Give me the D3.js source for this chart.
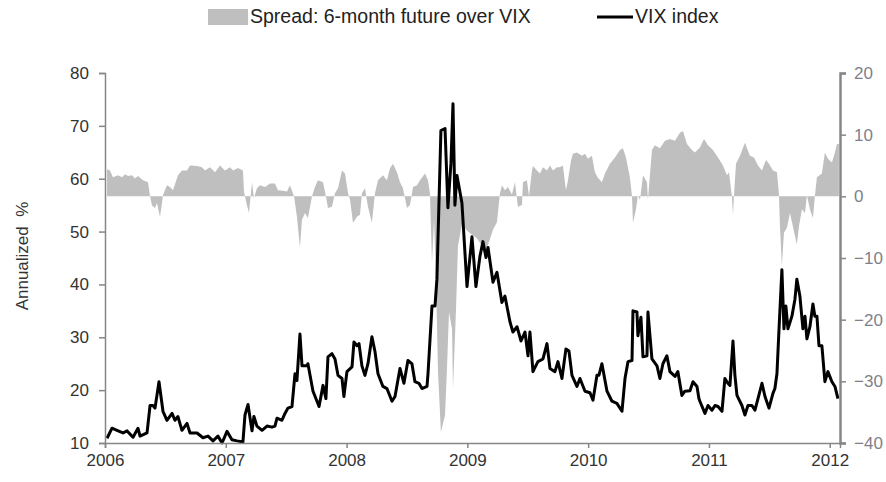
<!DOCTYPE html>
<html>
<head>
<meta charset="utf-8">
<script src="https://cdn.jsdelivr.net/npm/d3@7"></script>
<style>
  body { margin: 0; background: #fff; }
  text { font-family: "Liberation Sans", Arial, sans-serif; }
</style>
</head>
<body>
<div id="chart"></div>
<script>
// time given as decimal year, values in annualized %
const vixSeries = [
  [2006.017, 10.9], [2006.058, 12.8], [2006.099, 12.4], [2006.149, 11.9], [2006.182, 12.3],
  [2006.232, 11.1], [2006.273, 12.8], [2006.290, 11.3], [2006.348, 11.9], [2006.373, 17.1],
  [2006.397, 17.1], [2006.414, 16.6], [2006.447, 21.6], [2006.480, 16.0], [2006.513, 14.3],
  [2006.555, 15.6], [2006.579, 14.3], [2006.604, 15.0], [2006.637, 12.4], [2006.679, 13.7],
  [2006.704, 11.9], [2006.762, 11.9], [2006.811, 11.0], [2006.853, 11.3], [2006.894, 10.4],
  [2006.935, 11.3], [2006.969, 10.0], [2007.010, 12.2], [2007.051, 10.6], [2007.093, 10.4],
  [2007.142, 10.2], [2007.159, 15.3], [2007.184, 17.3], [2007.217, 12.3], [2007.233, 15.0],
  [2007.258, 13.2], [2007.300, 12.4], [2007.341, 13.2], [2007.382, 13.0], [2007.407, 13.2],
  [2007.424, 14.7], [2007.465, 14.3], [2007.490, 15.6], [2007.515, 16.6], [2007.548, 16.9],
  [2007.573, 23.1], [2007.589, 21.8], [2007.614, 30.6], [2007.631, 24.6], [2007.672, 24.6],
  [2007.680, 25.0], [2007.722, 19.8], [2007.755, 17.9], [2007.772, 16.9], [2007.805, 20.9],
  [2007.829, 18.4], [2007.846, 26.3], [2007.879, 26.9], [2007.904, 25.9], [2007.929, 22.8],
  [2007.962, 22.2], [2007.978, 18.8], [2008.003, 23.5], [2008.045, 24.4], [2008.061, 29.1],
  [2008.086, 28.4], [2008.103, 28.8], [2008.127, 24.6], [2008.152, 22.8], [2008.177, 25.0],
  [2008.210, 30.1], [2008.235, 27.3], [2008.260, 23.1], [2008.301, 20.7], [2008.334, 20.3],
  [2008.376, 17.9], [2008.401, 18.8], [2008.442, 24.1], [2008.475, 21.3], [2008.508, 25.6],
  [2008.541, 25.0], [2008.566, 21.6], [2008.599, 21.3], [2008.624, 20.3], [2008.666, 20.7],
  [2008.674, 23.1], [2008.707, 35.9], [2008.732, 35.9], [2008.748, 41.0], [2008.781, 69.1],
  [2008.815, 69.5], [2008.839, 54.5], [2008.864, 62.9], [2008.881, 74.2], [2008.897, 55.0],
  [2008.914, 60.6], [2008.955, 55.4], [2008.997, 39.6], [2009.038, 49.0], [2009.071, 39.6],
  [2009.104, 45.3], [2009.129, 48.1], [2009.154, 45.1], [2009.171, 47.0], [2009.212, 40.4],
  [2009.245, 42.3], [2009.286, 36.6], [2009.311, 37.8], [2009.353, 32.9], [2009.377, 31.0],
  [2009.411, 32.0], [2009.444, 29.3], [2009.477, 31.0], [2009.502, 26.5], [2009.518, 31.0],
  [2009.543, 23.5], [2009.584, 25.4], [2009.626, 25.9], [2009.659, 28.8], [2009.684, 24.1],
  [2009.725, 23.5], [2009.750, 25.4], [2009.783, 22.2], [2009.816, 27.8], [2009.841, 27.4],
  [2009.866, 22.8], [2009.907, 20.7], [2009.932, 22.2], [2009.974, 19.8], [2010.015, 19.5],
  [2010.040, 18.1], [2010.073, 22.8], [2010.089, 22.8], [2010.114, 25.0], [2010.156, 19.8],
  [2010.197, 17.9], [2010.238, 17.5], [2010.280, 16.0], [2010.305, 22.2], [2010.330, 25.4],
  [2010.363, 25.6], [2010.371, 35.0], [2010.404, 34.8], [2010.412, 30.3], [2010.437, 33.8],
  [2010.454, 26.3], [2010.487, 26.5], [2010.495, 34.8], [2010.528, 25.9], [2010.570, 24.6],
  [2010.594, 22.2], [2010.619, 25.0], [2010.652, 26.5], [2010.677, 23.5], [2010.719, 22.6],
  [2010.743, 23.5], [2010.776, 19.0], [2010.801, 19.8], [2010.843, 19.9], [2010.868, 21.6],
  [2010.901, 20.7], [2010.917, 18.4], [2010.925, 17.9], [2010.967, 15.6], [2010.992, 17.1],
  [2011.025, 16.2], [2011.050, 17.1], [2011.075, 16.9], [2011.108, 16.0], [2011.132, 22.2],
  [2011.157, 21.3], [2011.174, 20.9], [2011.199, 29.3], [2011.215, 22.8], [2011.232, 19.0],
  [2011.273, 17.1], [2011.298, 15.3], [2011.323, 17.1], [2011.356, 17.1], [2011.381, 16.2],
  [2011.406, 18.4], [2011.439, 21.3], [2011.464, 18.8], [2011.497, 16.6], [2011.530, 19.4],
  [2011.546, 20.3], [2011.563, 23.1], [2011.579, 31.0], [2011.604, 42.8], [2011.621, 31.6],
  [2011.637, 35.9], [2011.654, 31.6], [2011.687, 34.0], [2011.712, 37.2], [2011.728, 41.0],
  [2011.753, 37.8], [2011.778, 31.6], [2011.795, 34.0], [2011.811, 29.7], [2011.836, 32.0],
  [2011.861, 36.3], [2011.877, 34.0], [2011.894, 34.0], [2011.911, 28.4], [2011.935, 28.4],
  [2011.960, 21.6], [2011.985, 23.5], [2012.018, 21.6], [2012.043, 20.7], [2012.068, 18.4]
];

// spread of the 6-month future over spot VIX, right axis
const spreadSeries = [
  [2006.017, 4.4], [2006.041, 4.2], [2006.066, 3.1], [2006.108, 3.4], [2006.141, 3.1],
  [2006.166, 3.6], [2006.190, 3.3], [2006.224, 3.4], [2006.248, 2.9], [2006.273, 3.3],
  [2006.315, 2.6], [2006.356, 2.3], [2006.373, 0.0], [2006.389, -1.5], [2006.414, -1.9],
  [2006.430, -1.1], [2006.455, -3.3], [2006.472, -1.1], [2006.480, 0.2], [2006.513, 1.8],
  [2006.538, 1.5], [2006.563, 1.0], [2006.604, 3.4], [2006.637, 4.2], [2006.679, 4.2],
  [2006.704, 5.0], [2006.762, 4.9], [2006.803, 4.7], [2006.828, 4.2], [2006.869, 4.7],
  [2006.911, 3.9], [2006.952, 5.0], [2006.993, 4.2], [2007.035, 4.7], [2007.060, 4.2],
  [2007.101, 4.6], [2007.142, 4.2], [2007.151, 0.7], [2007.175, -1.4], [2007.192, -2.7],
  [2007.217, 2.3], [2007.233, -0.3], [2007.258, 1.3], [2007.283, 1.8], [2007.325, 1.5],
  [2007.366, 2.1], [2007.407, 2.1], [2007.432, 1.0], [2007.474, 0.9], [2007.507, 0.8],
  [2007.531, 1.8], [2007.565, 0.0], [2007.589, -3.3], [2007.614, -8.3], [2007.631, -3.8],
  [2007.656, -2.7], [2007.680, -3.5], [2007.714, 0.0], [2007.738, 1.5], [2007.763, 2.6],
  [2007.805, 2.3], [2007.829, 0.0], [2007.846, -1.9], [2007.879, -1.7], [2007.904, 0.5],
  [2007.929, 1.3], [2007.962, 4.2], [2007.987, 3.7], [2008.012, 0.5], [2008.029, -0.6],
  [2008.053, -4.3], [2008.086, -3.3], [2008.111, -3.0], [2008.127, 0.5], [2008.152, 1.3],
  [2008.177, -1.7], [2008.210, -4.3], [2008.235, 0.5], [2008.260, 2.6], [2008.301, 3.4],
  [2008.334, 2.6], [2008.359, 4.5], [2008.384, 5.3], [2008.417, 3.9], [2008.442, 2.3],
  [2008.467, 1.3], [2008.500, -1.9], [2008.525, -1.4], [2008.550, 1.5], [2008.583, 1.8],
  [2008.608, 2.6], [2008.649, 3.7], [2008.674, 2.6], [2008.690, 0.5], [2008.707, -10.8],
  [2008.724, -3.9], [2008.740, -13.6], [2008.757, -28.5], [2008.781, -38.2], [2008.815, -35.5],
  [2008.831, -28.0], [2008.848, -18.8], [2008.873, -21.5], [2008.881, -31.2], [2008.906, -18.3],
  [2008.922, -8.1], [2008.955, -4.5], [2008.997, -5.6], [2009.038, -6.2], [2009.079, -6.8],
  [2009.121, -8.0], [2009.154, -8.6], [2009.179, -7.4], [2009.212, -5.4], [2009.245, -4.2],
  [2009.270, 0.5], [2009.286, 1.8], [2009.311, 1.0], [2009.336, 1.5], [2009.369, 0.3],
  [2009.394, 2.3], [2009.419, -1.7], [2009.452, -1.4], [2009.460, 2.3], [2009.493, 2.6],
  [2009.510, 0.0], [2009.535, 4.2], [2009.543, 4.9], [2009.576, 4.2], [2009.601, 3.7],
  [2009.626, 4.7], [2009.659, 4.2], [2009.684, 5.0], [2009.709, 4.2], [2009.742, 4.7],
  [2009.767, 4.7], [2009.791, 5.0], [2009.816, 1.0], [2009.833, 2.6], [2009.858, 5.8],
  [2009.874, 6.9], [2009.907, 7.1], [2009.949, 6.6], [2009.974, 6.9], [2009.998, 6.1],
  [2010.031, 6.6], [2010.056, 3.9], [2010.081, 3.0], [2010.114, 2.3], [2010.139, 3.7],
  [2010.180, 5.3], [2010.222, 6.3], [2010.263, 7.5], [2010.288, 7.8], [2010.313, 6.3],
  [2010.346, 3.0], [2010.363, 0.0], [2010.371, -4.3], [2010.396, -2.1], [2010.412, 0.2],
  [2010.429, -0.6], [2010.454, 3.4], [2010.487, 2.3], [2010.495, -0.6], [2010.528, 7.5],
  [2010.553, 8.3], [2010.594, 7.8], [2010.636, 9.0], [2010.677, 9.3], [2010.719, 9.0],
  [2010.760, 10.3], [2010.785, 10.6], [2010.818, 8.5], [2010.859, 7.5], [2010.884, 7.1],
  [2010.925, 7.9], [2010.959, 9.3], [2010.992, 8.3], [2011.033, 7.5], [2011.075, 6.3],
  [2011.116, 5.0], [2011.149, 3.4], [2011.166, 3.9], [2011.190, 0.0], [2011.199, -3.0],
  [2011.207, 0.0], [2011.224, 5.3], [2011.257, 6.6], [2011.298, 8.7], [2011.339, 6.6],
  [2011.373, 6.3], [2011.406, 5.0], [2011.439, 4.2], [2011.472, 5.9], [2011.497, 5.3],
  [2011.530, 4.2], [2011.563, 3.9], [2011.579, 0.5], [2011.588, -4.9], [2011.604, -11.3],
  [2011.621, -5.9], [2011.646, -5.1], [2011.671, -2.7], [2011.695, -4.9], [2011.728, -7.8],
  [2011.745, -4.9], [2011.770, -2.1], [2011.795, -2.7], [2011.811, 0.2], [2011.836, -2.1],
  [2011.861, -3.5], [2011.877, 0.0], [2011.894, 3.1], [2011.935, 3.7], [2011.960, 7.1],
  [2011.985, 6.1], [2012.018, 5.5], [2012.043, 7.1], [2012.060, 8.5], [2012.076, 8.5]
];

const yearTicks = [2006, 2007, 2008, 2009, 2010, 2011, 2012];
const leftTicks = [10, 20, 30, 40, 50, 60, 70, 80];
const rightTicks = [-40, -30, -20, -10, 0, 10, 20];

const W = 886, H = 482;
const plotLeft = 105, plotRight = 840, plotTop = 73, plotBottom = 443;

const svg = d3.select("#chart").append("svg")
    .attr("width", W)
    .attr("height", H);

const x = d3.scaleLinear().domain([2006, 2012.085]).range([plotLeft, plotRight]);
const yL = d3.scaleLinear().domain([10, 80]).range([plotBottom, plotTop]);
const yR = d3.scaleLinear().domain([-40, 20]).range([plotBottom, plotTop]);

// spread area against zero line
const area = d3.area()
    .x(d => x(d[0]))
    .y0(yR(0))
    .y1(d => yR(d[1]));

svg.append("path")
    .datum(spreadSeries)
    .attr("fill", "#bfbfbf")
    .attr("d", area);

const line = d3.line()
    .x(d => x(d[0]))
    .y(d => yL(d[1]));

svg.append("path")
    .datum(vixSeries)
    .attr("fill", "none")
    .attr("stroke", "#000")
    .attr("stroke-width", 3)
    .attr("stroke-linejoin", "round")
    .attr("d", line);

// axes
const axisColor = "#868686";

const gx = svg.append("g")
    .attr("transform", `translate(0,${plotBottom})`)
    .call(d3.axisBottom(x).tickValues(yearTicks).tickFormat(d3.format("d")).tickSize(5).tickPadding(6));

const gl = svg.append("g")
    .attr("transform", `translate(${plotLeft},0)`)
    .call(d3.axisLeft(yL).tickValues(leftTicks).tickSize(6).tickPadding(10));

const gr = svg.append("g")
    .attr("transform", `translate(${plotRight},0)`)
    .call(d3.axisRight(yR).tickValues(rightTicks).tickSize(6).tickPadding(8));

[gx, gl, gr].forEach(g => {
    g.select(".domain").attr("stroke", axisColor).attr("stroke-width", 1.5);
    g.selectAll(".tick line").attr("stroke", axisColor).attr("stroke-width", 1.5);
    g.selectAll(".tick text").attr("font-size", 17).attr("fill", "#333");
});
gr.select(".domain").attr("stroke-width", 2.5);
gr.selectAll(".tick text").attr("fill", "#7f7f8c");

// y title
svg.append("text")
    .attr("transform", "translate(28,256) rotate(-90)")
    .attr("text-anchor", "middle")
    .attr("font-size", 17)
    .attr("fill", "#333")
    .attr("xml:space", "preserve")
    .text("Annualized  %");

// legend
const lg = svg.append("g");
lg.append("rect")
    .attr("x", 208).attr("y", 9)
    .attr("width", 40).attr("height", 16)
    .attr("fill", "#bfbfbf");
lg.append("text")
    .attr("x", 250).attr("y", 23)
    .attr("font-size", 19.5)
    .attr("fill", "#222")
    .text("Spread: 6-month future over VIX");
lg.append("line")
    .attr("x1", 597).attr("x2", 633)
    .attr("y1", 17).attr("y2", 17)
    .attr("stroke", "#000").attr("stroke-width", 3);
lg.append("text")
    .attr("x", 635).attr("y", 23)
    .attr("font-size", 19.5)
    .attr("fill", "#222")
    .text("VIX index");
</script>
</body>
</html>
